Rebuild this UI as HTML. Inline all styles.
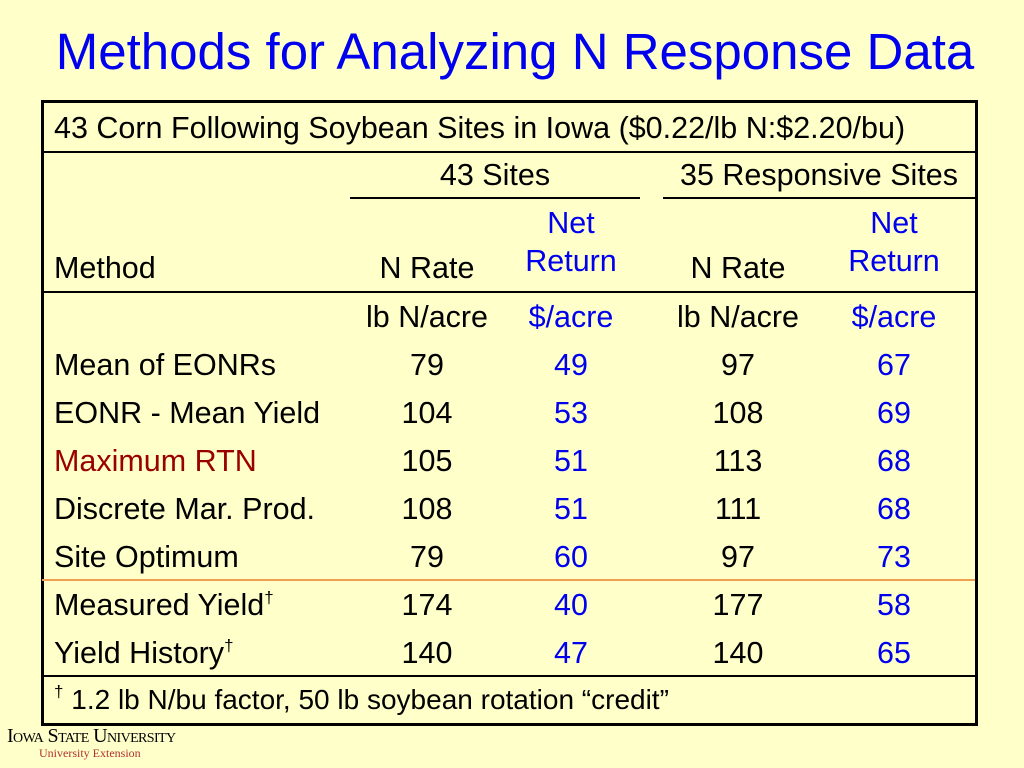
<!DOCTYPE html>
<html><head><meta charset="utf-8"><style>
body{margin:0;width:1024px;height:768px;background:#ffffc9;position:relative;overflow:hidden;font-family:"Liberation Sans",sans-serif;}
.t{position:absolute;font-size:30.5px;line-height:32px;white-space:nowrap;color:#000;}
.c{transform:translateX(-50%);}
.b{color:#0000ee;}
.h{position:absolute;background:#000;}
sup{line-height:0;font-size:17px;vertical-align:12px;}
</style></head><body>
<div style="position:absolute;left:0;width:1030px;top:22px;text-align:center;font-size:51px;color:#0000ee;line-height:60px;">Methods for Analyzing N Response Data</div>
<div style="position:absolute;left:41px;top:100px;width:931px;height:620px;border:3px solid #000;"></div>
<div class="h" style="left:42px;top:151px;width:933px;height:2px"></div>
<div class="h" style="left:42px;top:291px;width:933px;height:2px"></div>
<div class="h" style="left:42px;top:579px;width:933px;height:2px;background:#f0a050"></div>
<div class="h" style="left:42px;top:675px;width:933px;height:2px"></div>
<div class="h" style="left:350px;top:197px;width:290px;height:2px"></div>
<div class="h" style="left:663px;top:197px;width:312px;height:2px"></div>
<div class="t" style="left:54px;top:112px">43 Corn Following Soybean Sites in Iowa ($0.22/lb N:$2.20/bu)</div>
<div class="t c" style="left:495px;top:159px">43 Sites</div>
<div class="t c" style="left:819px;top:159px">35 Responsive Sites</div>
<div class="t" style="left:54px;top:252px">Method</div>
<div class="t c" style="left:427px;top:252px">N Rate</div>
<div class="t c b" style="left:571px;top:204px;text-align:center;line-height:38px">Net<br>Return</div>
<div class="t c" style="left:738px;top:252px">N Rate</div>
<div class="t c b" style="left:894px;top:204px;text-align:center;line-height:38px">Net<br>Return</div>
<div class="t c" style="left:427px;top:301px">lb N/acre</div>
<div class="t c b" style="left:571px;top:301px">$/acre</div>
<div class="t c" style="left:738px;top:301px">lb N/acre</div>
<div class="t c b" style="left:894px;top:301px">$/acre</div>
<div id="rows"></div>
<div class="t" style="left:54px;top:684px;font-size:28px"><sup>†</sup> 1.2 lb N/bu factor, 50 lb soybean rotation “credit”</div>
<div style="position:absolute;left:7px;top:726px;font-family:'Liberation Serif',serif;font-size:20px;line-height:20px;letter-spacing:-0.6px;font-variant:small-caps">Iowa State University<div style="color:#b03030;font-size:12px;margin-left:32px;line-height:15px;font-variant:normal;letter-spacing:0">University Extension</div></div>
<script>
const methods=["Mean of EONRs","EONR - Mean Yield","Maximum RTN","Discrete Mar. Prod.","Site Optimum","Measured Yield†","Yield History†"];
const nrate43=[79,104,105,108,79,174,140];
const net43=[49,53,51,51,60,40,47];
const nrate35=[97,108,113,111,97,177,140];
const net35=[67,69,68,68,73,58,65];
const root=document.getElementById('rows');
function cell(txt,left,top,cls,name,color){const d=document.createElement('div');d.className='t '+cls;d.style.left=left+'px';d.style.top=top+'px';if(color)d.style.color=color;


if(txt.endsWith('†')){d.innerHTML=txt.slice(0,-1)+'<sup>†</sup>';}else d.textContent=txt;root.appendChild(d);}
methods.forEach((m,i)=>{const top=349+i*48;
cell(m,54,top,'','method-'+i,i===2?'#990000':null);
cell(String(nrate43[i]),427,top,'c','nrate43-'+i);
cell(String(net43[i]),571,top,'c b','net43-'+i);
cell(String(nrate35[i]),738,top,'c','nrate35-'+i);
cell(String(net35[i]),894,top,'c b','net35-'+i);});
</script>
</body></html>
